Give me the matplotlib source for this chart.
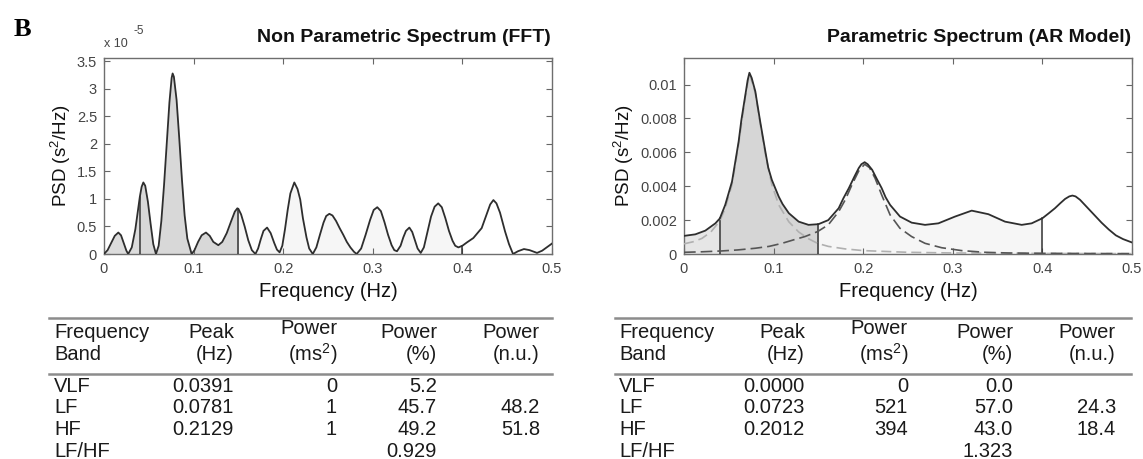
import numpy as np
import matplotlib
matplotlib.use("Agg")
import matplotlib.pyplot as plt
from matplotlib.lines import Line2D

plt.rcParams["font.family"] = ["Liberation Sans", "DejaVu Sans"]
plt.rcParams["mathtext.fontset"] = "custom"
plt.rcParams["mathtext.rm"] = "Liberation Sans"
plt.rcParams["mathtext.it"] = "Liberation Sans"

# FFT periodogram (psd in units of 1e-5 s^2/Hz)
fft_freq = [0.0, 0.004, 0.008, 0.012, 0.016, 0.019, 0.022, 0.025, 0.027,
            0.031, 0.035, 0.038, 0.040, 0.042, 0.0439, 0.046, 0.049, 0.052, 0.055, 0.058,
            0.061, 0.064, 0.067, 0.070, 0.073, 0.0755, 0.0766, 0.078, 0.081, 0.084, 0.087, 0.090, 0.093, 0.0978,
            0.101, 0.105, 0.109, 0.1138, 0.118, 0.122, 0.1276,
            0.132, 0.137, 0.142, 0.146, 0.1488, 0.150, 0.153, 0.157, 0.161, 0.165, 0.169,
            0.172, 0.175, 0.178, 0.182, 0.186, 0.190, 0.193, 0.196,
            0.199, 0.202, 0.205, 0.208, 0.2124, 0.216, 0.219, 0.222, 0.226, 0.229, 0.233,
            0.237, 0.241, 0.245, 0.248, 0.2515, 0.255, 0.259, 0.263, 0.267, 0.271, 0.275, 0.279, 0.282,
            0.287, 0.292, 0.297, 0.301, 0.305, 0.309, 0.313, 0.317, 0.321, 0.324, 0.327,
            0.331, 0.334, 0.337, 0.3408, 0.344, 0.347, 0.350, 0.3535,
            0.357, 0.361, 0.365, 0.369, 0.373, 0.377, 0.381, 0.385, 0.389, 0.392, 0.3955,
            0.400, 0.405, 0.4122, 0.4215, 0.427, 0.431, 0.4346, 0.438, 0.442, 0.4476, 0.452, 0.4565,
            0.462, 0.4687, 0.475, 0.4833, 0.489, 0.495, 0.500]
fft_psd = [0.0, 0.07, 0.20, 0.33, 0.39, 0.34, 0.20, 0.06, 0.0,
           0.12, 0.45, 0.80, 1.04, 1.22, 1.30, 1.24, 0.95, 0.55, 0.18, 0.0,
           0.15, 0.60, 1.25, 2.00, 2.75, 3.20, 3.28, 3.22, 2.80, 2.10, 1.35, 0.70, 0.28, 0.0,
           0.07, 0.22, 0.34, 0.39, 0.33, 0.22, 0.16,
           0.22, 0.38, 0.60, 0.77, 0.83, 0.82, 0.72, 0.50, 0.25, 0.07, 0.0,
           0.10, 0.27, 0.42, 0.48, 0.38, 0.20, 0.08, 0.03,
           0.15, 0.45, 0.80, 1.10, 1.30, 1.18, 0.99, 0.65, 0.30, 0.10, 0.0,
           0.12, 0.35, 0.57, 0.69, 0.73, 0.70, 0.60, 0.47, 0.35, 0.22, 0.12, 0.04, 0.0,
           0.10, 0.35, 0.62, 0.80, 0.85, 0.78, 0.58, 0.35, 0.16, 0.07, 0.05,
           0.15, 0.30, 0.42, 0.48, 0.40, 0.25, 0.10, 0.02,
           0.12, 0.40, 0.68, 0.86, 0.92, 0.85, 0.65, 0.42, 0.24, 0.15, 0.12,
           0.15, 0.21, 0.29, 0.47, 0.72, 0.90, 0.98, 0.92, 0.75, 0.41, 0.18, 0.0,
           0.05, 0.09, 0.07, 0.02, 0.06, 0.13, 0.19]

# AR spectrum (psd in units of 1e-3 s^2/Hz)
ar_freq = [0.0, 0.0126, 0.0238, 0.035, 0.040, 0.046, 0.0536, 0.061, 0.064, 0.0685, 0.071, 0.073,
           0.0755, 0.0796, 0.082, 0.085, 0.0908, 0.094, 0.098, 0.1057, 0.110, 0.117, 0.128, 0.139,
           0.150, 0.161, 0.1726, 0.178, 0.184, 0.190, 0.195, 0.198, 0.2016, 0.205, 0.210, 0.215,
           0.2206, 0.225, 0.230, 0.2411, 0.2541, 0.269, 0.2839, 0.3025, 0.3211, 0.3397, 0.3583,
           0.3769, 0.388, 0.400, 0.407, 0.414, 0.420, 0.4253, 0.430, 0.4335, 0.437, 0.442, 0.450,
           0.458, 0.466, 0.474, 0.482, 0.490, 0.500]
ar_psd = [1.07, 1.16, 1.38, 1.81, 2.10, 2.90, 4.28, 6.65, 7.90, 9.40, 10.25, 10.70,
          10.40, 9.60, 8.80, 7.83, 6.05, 5.10, 4.38, 3.39, 2.95, 2.41, 1.91, 1.72,
          1.76, 2.00, 2.70, 3.30, 3.89, 4.55, 5.07, 5.30, 5.42, 5.30, 4.97, 4.45,
          3.89, 3.35, 2.90, 2.21, 1.85, 1.72, 1.81, 2.21, 2.56, 2.35, 1.91,
          1.72, 1.81, 2.11, 2.40, 2.70, 3.00, 3.25, 3.40, 3.45, 3.40, 3.20, 2.75,
          2.30, 1.85, 1.45, 1.10, 0.88, 0.68]

# AR components (dashed): LF pole and HF pole, units of 1e-3
lf_comp_freq = [0.0, 0.010, 0.020, 0.030, 0.040, 0.046, 0.0536, 0.061, 0.0685, 0.073, 0.0796,
                0.085, 0.0908, 0.098, 0.1057, 0.117, 0.128, 0.139, 0.149, 0.161, 0.180, 0.200,
                0.250, 0.300, 0.400, 0.500]
lf_comp_psd = [0.60, 0.72, 0.92, 1.30, 1.95, 2.70, 4.10, 6.50, 9.30, 10.65, 9.50,
               7.70, 5.90, 4.10, 2.90, 1.90, 1.30, 0.90, 0.63, 0.45, 0.30, 0.20,
               0.10, 0.06, 0.03, 0.02]
hf_comp_freq = [0.0, 0.020, 0.042, 0.060, 0.0796, 0.095, 0.1094, 0.122, 0.135, 0.149, 0.161,
                0.1726, 0.180, 0.188, 0.195, 0.2016, 0.207, 0.2132, 0.2206, 0.230, 0.241,
                0.254, 0.269, 0.2876, 0.310, 0.336, 0.362, 0.400, 0.450, 0.500]
hf_comp_psd = [0.10, 0.13, 0.18, 0.24, 0.34, 0.45, 0.63, 0.83, 1.03, 1.32, 1.72,
               2.50, 3.20, 4.15, 4.90, 5.30, 5.10, 4.48, 3.49, 2.31, 1.52,
               1.03, 0.63, 0.37, 0.20, 0.10, 0.06, 0.04, 0.03, 0.02]

band_edges = [0.04, 0.15, 0.40]

table_header = [["Frequency", "Band"], ["Peak", "(Hz)"], ["Power", "(ms$^2$)"],
                ["Power", "(%)"], ["Power", "(n.u.)"]]
band_names = ["VLF", "LF", "HF", "LF/HF"]
fft_table = [["0.0391", "0", "5.2", ""],
             ["0.0781", "1", "45.7", "48.2"],
             ["0.2129", "1", "49.2", "51.8"],
             ["", "", "0.929", ""]]
ar_table = [["0.0000", "0", "0.0", ""],
            ["0.0723", "521", "57.0", "24.3"],
            ["0.2012", "394", "43.0", "18.4"],
            ["", "", "1.323", ""]]

W, H = 1143, 459
fig = plt.figure(figsize=(W / 100, H / 100), dpi=100)
fig.patch.set_facecolor("white")


def fx(x):
    return x / W


def fy(y):
    return 1 - y / H


def style_axes(ax, ymax, yticks):
    ax.set_xlim(0, 0.5)
    ax.set_ylim(0, ymax)
    ax.set_xticks([0, 0.1, 0.2, 0.3, 0.4, 0.5])
    ax.set_yticks(yticks)
    ax.xaxis.set_major_formatter(plt.FuncFormatter(lambda v, p: f"{v:g}"))
    ax.yaxis.set_major_formatter(plt.FuncFormatter(lambda v, p: f"{v:g}"))
    ax.tick_params(direction="in", length=4, width=0.8, colors="#666666",
                   labelcolor="#444444", labelsize=10.5, top=True, right=True)
    ax.tick_params(axis="x", pad=6)
    ax.tick_params(axis="y", pad=5)
    for spine in ax.spines.values():
        spine.set_color("#6e6e6e")
        spine.set_linewidth(1.0)
    ax.set_xlabel("Frequency (Hz)", fontsize=14.5, color="#111111", labelpad=4)
    ax.set_ylabel("PSD (s$^2$/Hz)", fontsize=13.5, color="#111111", labelpad=3)


def shade_bands(ax, f, p, colors):
    f = np.asarray(f)
    p = np.asarray(p)
    lo = 0.0
    for hi, c in zip(band_edges, colors):
        m = (f >= lo - 1e-9) & (f <= hi + 1e-9)
        ax.fill_between(f[m], 0, p[m], color=c, lw=0, zorder=1)
        lo = hi
    for e in band_edges:
        ax.plot([e, e], [0, np.interp(e, f, p)], color="#333333", lw=1.1, zorder=3)


# left panel: FFT
ax1 = fig.add_axes([fx(104), fy(254), fx(448), (254 - 57.5) / H])
fft_f = np.array(fft_freq)
fft_p = np.array(fft_psd)
shade_bands(ax1, fft_f, fft_p, ["#dcdcdc", "#d8d8d8", "#f6f6f6"])
ax1.plot(fft_f, fft_p, color="#2e2e2e", lw=1.3, zorder=4)
style_axes(ax1, 3.57, [0, 0.5, 1, 1.5, 2, 2.5, 3, 3.5])
fig.text(fx(104), fy(44), "x 10", fontsize=9, color="#444444", va="center", ha="left")
fig.text(fx(134), fy(31), "-5", fontsize=8.5, color="#444444", va="center", ha="left")

# right panel: AR model
ax2 = fig.add_axes([fx(684), fy(254), fx(448), (254 - 57.5) / H])
ar_f = np.array(ar_freq)
ar_p = np.array(ar_psd) * 1e-3
shade_bands(ax2, ar_f, ar_p, ["#e6e6e6", "#d6d6d6", "#f6f6f6"])
ax2.plot(lf_comp_freq, np.array(lf_comp_psd) * 1e-3, color="#b0b0b0", lw=1.2,
         ls=(0, (6, 3)), zorder=4)
ax2.plot(hf_comp_freq, np.array(hf_comp_psd) * 1e-3, color="#555555", lw=1.2,
         ls=(0, (7, 3)), zorder=4)
ax2.plot(ar_f, ar_p, color="#2e2e2e", lw=1.3, zorder=5)
style_axes(ax2, 0.0116, [0, 0.002, 0.004, 0.006, 0.008, 0.01])

# titles and panel letter
fig.text(fx(551), fy(38), "Non Parametric Spectrum (FFT)", fontsize=14,
         fontweight="bold", ha="right", va="center", color="#111111")
fig.text(fx(1131), fy(38), "Parametric Spectrum (AR Model)", fontsize=14,
         fontweight="bold", ha="right", va="center", color="#111111")
fig.text(fx(22), fy(30), "B", fontsize=19, fontweight="bold",
         family="Liberation Serif", ha="center", va="center", color="#000000")


def draw_table(x0, x1, col_x, rows):
    fs = 14.5
    for ly in (318, 374):
        fig.add_artist(Line2D([fx(x0), fx(x1)], [fy(ly), fy(ly)], color="#8c8c8c", lw=1.8))
    fig.text(fx(col_x[0]), fy(333), table_header[0][0], fontsize=fs, ha="left", va="center", color="#1a1a1a")
    fig.text(fx(col_x[0]), fy(354), table_header[0][1], fontsize=fs, ha="left", va="center", color="#1a1a1a")
    for j in range(1, 5):
        top_y = 328 if j == 2 else 333
        fig.text(fx(col_x[j]), fy(top_y), table_header[j][0], fontsize=fs, ha="right",
                 va="center", color="#1a1a1a")
        fig.text(fx(col_x[j]), fy(354), table_header[j][1], fontsize=fs, ha="right",
                 va="center", color="#1a1a1a")
    for i, name in enumerate(band_names):
        y = 386 + i * 21.8
        fig.text(fx(col_x[0]), fy(y), name, fontsize=fs, ha="left", va="center", color="#1a1a1a")
        for j, val in enumerate(rows[i]):
            if val:
                fig.text(fx(col_x[j + 1]), fy(y), val, fontsize=fs, ha="right",
                         va="center", color="#1a1a1a")


draw_table(49, 552, [54, 234, 337, 437, 540], fft_table)
draw_table(615, 1131, [619, 805, 908, 1013, 1116], ar_table)

fig.savefig("out.png", dpi=100)
